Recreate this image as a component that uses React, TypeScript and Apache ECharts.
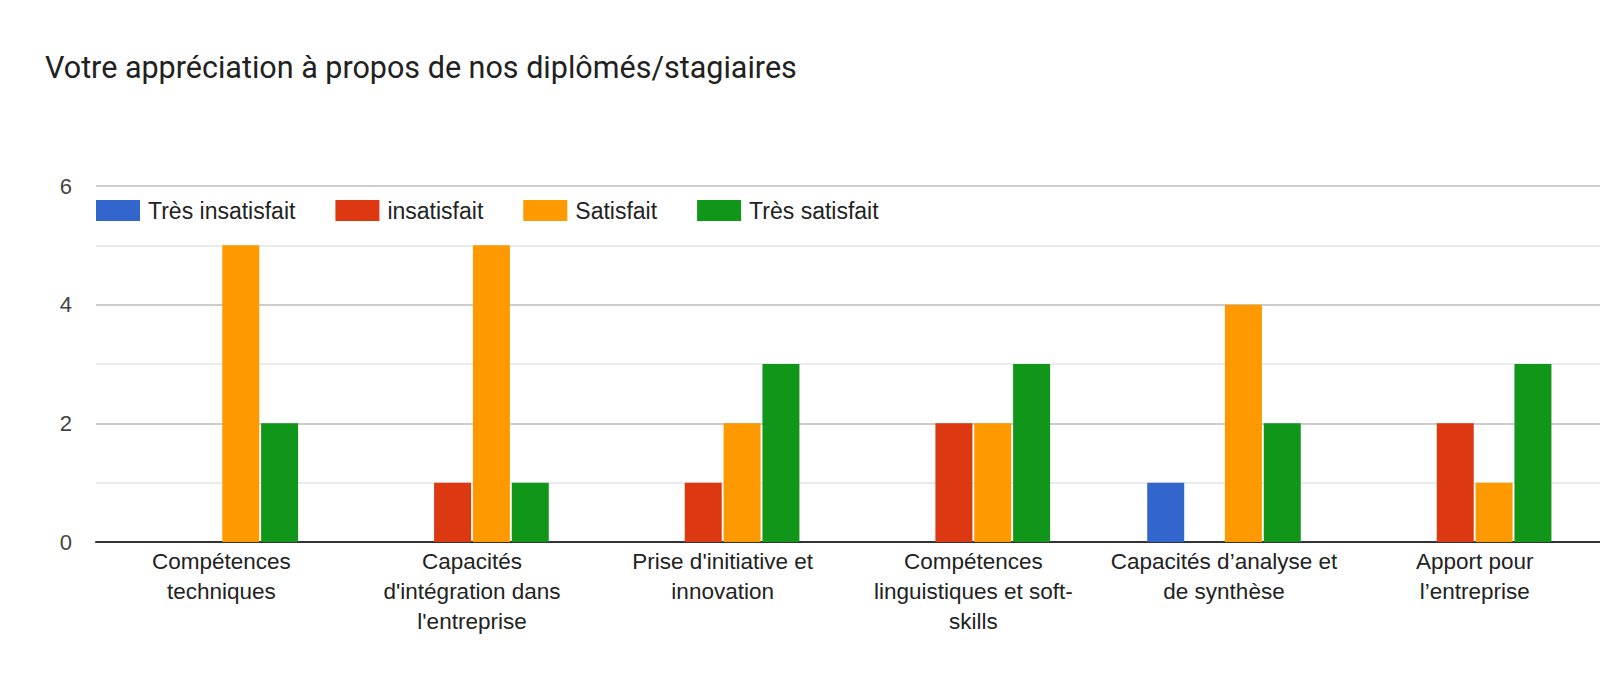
import React, { useEffect, useRef } from "react";
import * as echarts from "echarts";

const categories = [
  "Compétences\ntechniques",
  "Capacités\nd'intégration dans\nl'entreprise",
  "Prise d'initiative et\ninnovation",
  "Compétences\nlinguistiques et soft-\nskills",
  "Capacités d’analyse et\nde synthèse",
  "Apport pour\nl’entreprise",
];
const seriesNames = ["Très insatisfait", "insatisfait", "Satisfait", "Très satisfait"];
const tresInsatisfait = [0, 0, 0, 0, 1, 0];
const insatisfait = [0, 1, 1, 2, 0, 2];
const satisfait = [5, 5, 2, 2, 4, 1];
const tresSatisfait = [2, 1, 3, 3, 2, 3];
const colors = ["#3366cc", "#dc3912", "#ff9900", "#109618"];

export default function App() {
  const ref = useRef<HTMLDivElement>(null);
  useEffect(() => {
    if (!ref.current) return;
    const chart = echarts.init(ref.current, undefined, { renderer: "svg" });
    const values = [tresInsatisfait, insatisfait, satisfait, tresSatisfait];
    chart.setOption({
      animation: false,
      backgroundColor: "#ffffff",
      title: {
        text: "Votre appréciation à propos de nos diplômés/stagiaires",
        left: 45,
        top: 52,
        padding: 0,
        textStyle: { fontFamily: "Roboto", fontSize: 30.5, fontWeight: "normal", color: "#212121" },
      },
      legend: {
        left: 96,
        top: 199,
        padding: 0,
        itemWidth: 44,
        itemHeight: 21,
        itemGap: 40,
        icon: "rect",
        textStyle: {
          fontFamily: "Liberation Sans, Arial",
          fontSize: 23,
          color: "#222222",
          padding: [0, 0, 0, 3],
        },
        data: seriesNames,
      },
      grid: { left: 96, right: 0, top: 186, bottom: 140, containLabel: false },
      xAxis: {
        type: "category",
        data: categories,
        axisTick: { show: false },
        axisLine: { lineStyle: { color: "#333333", width: 2 } },
        axisLabel: {
          interval: 0,
          margin: 4,
          fontFamily: "Liberation Sans, Arial",
          fontSize: 22.5,
          lineHeight: 30,
          color: "#222222",
          align: "center",
        },
      },
      yAxis: {
        type: "value",
        min: 0,
        max: 6,
        interval: 1,
        axisLine: { show: false },
        axisTick: { show: false },
        axisLabel: {
          margin: 24,
          fontFamily: "Liberation Sans, Arial",
          fontSize: 22,
          color: "#444444",
          formatter: (v: number) => (v % 2 === 0 ? String(v) : ""),
        },
        splitLine: { lineStyle: { color: ["#cccccc", "#ebebeb"], width: 2 } },
      },
      series: seriesNames.map((name, i) => ({
        name,
        type: "bar",
        data: values[i],
        barWidth: 37,
        barGap: "5%",
        itemStyle: { color: colors[i] },
      })),
    });
    return () => chart.dispose();
  }, []);
  return (
    <div
      ref={ref}
      style={{ position: "fixed", left: 0, top: 0, width: 1600, height: 682, background: "#fff" }}
    />
  );
}
